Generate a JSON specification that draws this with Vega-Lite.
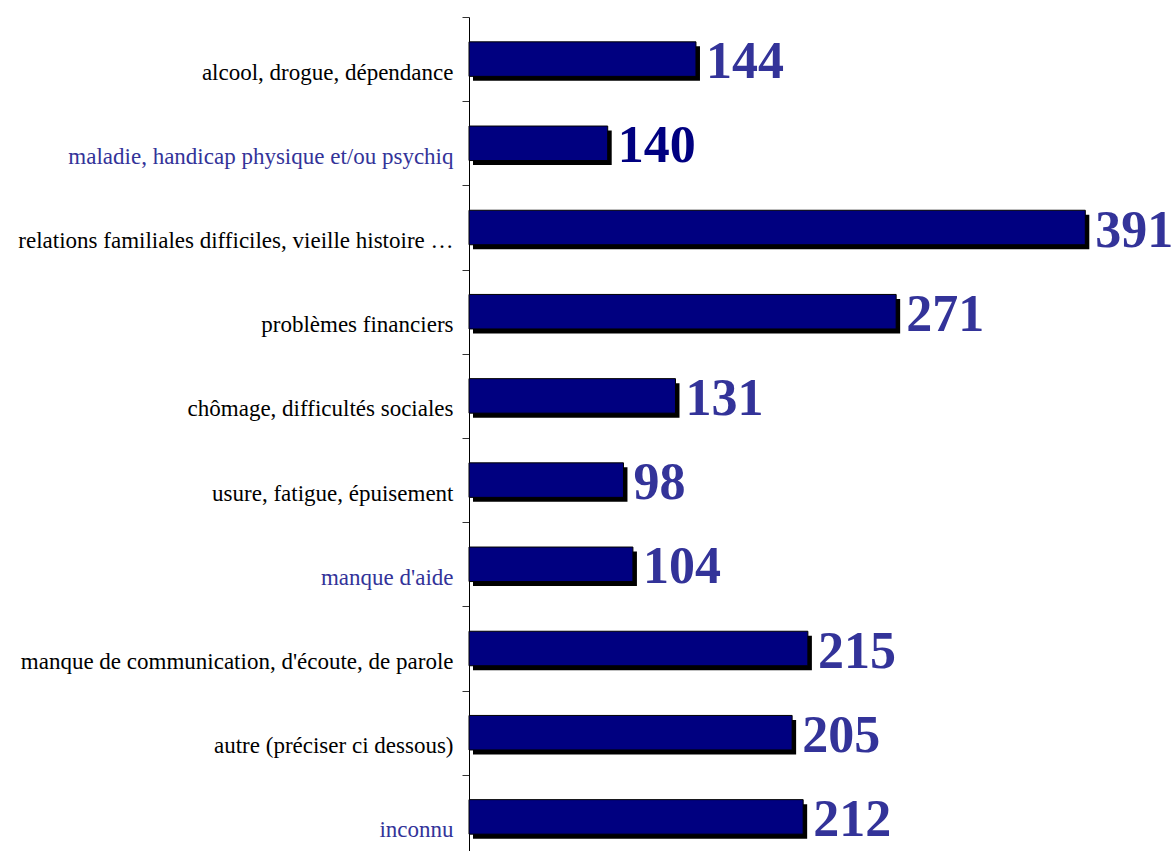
{
  "$schema": "https://vega.github.io/schema/vega-lite/v6.json",
  "autosize": {"type": "none"},
  "padding": {"left": 469, "top": 17, "right": 0, "bottom": 0},
  "width": 703,
  "height": 834,
  "background": "white",
  "config": {"view": {"stroke": null}},
  "data": {
    "values": [
      {"cause": "alcool, drogue, dépendance", "longueur": 144, "n": 144},
      {"cause": "maladie, handicap physique et/ou psychiq", "longueur": 88, "n": 140},
      {"cause": "relations familiales difficiles, vieille histoire …", "longueur": 391, "n": 391},
      {"cause": "problèmes financiers", "longueur": 271, "n": 271},
      {"cause": "chômage, difficultés sociales", "longueur": 131, "n": 131},
      {"cause": "usure, fatigue, épuisement", "longueur": 98, "n": 98},
      {"cause": "manque d'aide", "longueur": 104, "n": 104},
      {"cause": "manque de communication, d'écoute, de parole", "longueur": 215, "n": 215},
      {"cause": "autre (préciser ci dessous)", "longueur": 205, "n": 205},
      {"cause": "inconnu", "longueur": 212, "n": 212}
    ]
  },
  "encoding": {
    "y": {
      "field": "cause",
      "type": "nominal",
      "sort": null,
      "scale": {"range": [0, 842], "paddingInner": 0, "paddingOuter": 0},
      "axis": {
        "title": null,
        "domainColor": "black",
        "domainWidth": 1,
        "tickColor": "#333333",
        "tickSize": 7,
        "tickBand": "extent",
        "labelFont": "Liberation Serif",
        "labelFontSize": 23,
        "labelPadding": 9,
        "labelOffset": 13,
        "labelLimit": 0,
        "labelColor": {
          "condition": {
            "test": "datum.value == 'inconnu' || datum.value == \"manque d'aide\" || datum.value == 'maladie, handicap physique et/ou psychiq'",
            "value": "#333399"
          },
          "value": "black"
        }
      }
    },
    "x": {
      "field": "longueur",
      "type": "quantitative",
      "scale": {"domain": [0, 446], "nice": false},
      "axis": null
    }
  },
  "layer": [
    {
      "mark": {"type": "bar", "color": "black", "xOffset": 4, "yOffset": 4.5, "height": {"band": 0.41}}
    },
    {
      "mark": {"type": "bar", "fill": "#000080", "stroke": "#000000", "strokeWidth": 1, "height": {"band": 0.41}}
    },
    {
      "mark": {
        "type": "text",
        "align": "left",
        "baseline": "middle",
        "dx": 10,
        "dy": 3,
        "font": "Liberation Serif",
        "fontWeight": "bold",
        "fontSize": 52
      },
      "encoding": {
        "text": {"field": "n", "type": "quantitative"},
        "color": {
          "condition": {"test": "datum.n == 140", "value": "#000080"},
          "value": "#333399"
        }
      }
    }
  ]
}
